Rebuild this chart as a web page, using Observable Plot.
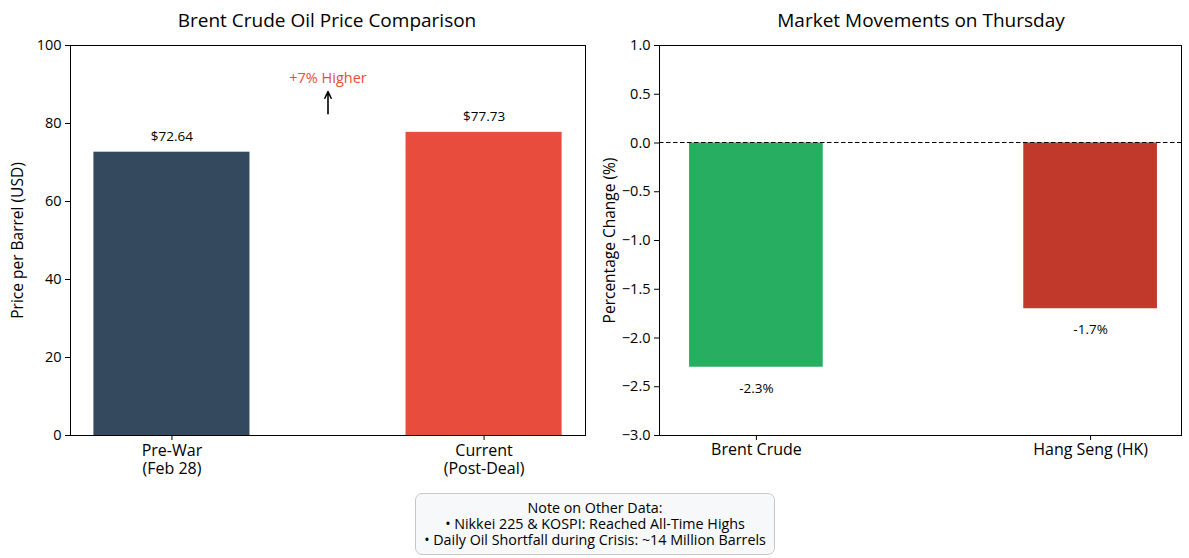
<!DOCTYPE html>
<html>
<head>
<meta charset="utf-8">
<script src="https://cdn.jsdelivr.net/npm/d3@7"></script>
<script src="https://cdn.jsdelivr.net/npm/@observablehq/plot@0.6"></script>
<style>
  html, body { margin: 0; padding: 0; background: #fff; }
  body { font-family: "Open Sans", Roboto, "DejaVu Sans", sans-serif; color: #000; }
  #wrap { position: relative; width: 1189px; height: 558px; overflow: hidden; }
  .panel { position: absolute; top: 0; }
  .title { position: absolute; top: 7px; font-size: 19px; text-align: center; white-space: nowrap; transform: translateX(-50%); }
  #note { position: absolute; left: 415px; top: 493px; width: 360px; height: 62px; box-sizing: border-box;
          border: 1px solid #c8c8c8; border-radius: 7px; background: #f6f8f9;
          font-size: 14.3px; line-height: 16px; text-align: center; padding-top: 6px; white-space: nowrap; }
</style>
</head>
<body>
<div id="wrap">
  <div class="title" style="left:327px">Brent Crude Oil Price Comparison</div>
  <div class="title" style="left:921px">Market Movements on Thursday</div>
  <div class="panel" id="left" style="left:0px"></div>
  <div class="panel" id="right" style="left:595px"></div>
  <div id="note"></div>
</div>
<script>
// ---- data ----
const priceCategories = ["Pre-War\n(Feb 28)", "Current\n(Post-Deal)"];
const priceValues = [72.64, 77.73];
const priceTicks = [0, 20, 40, 60, 80, 100];

const marketCategories = ["Brent Crude", "Hang Seng (HK)"];
const marketValues = [-2.3, -1.7];
const marketTicks = [-3.0, -2.5, -2.0, -1.5, -1.0, -0.5, 0.0, 0.5, 1.0];

const noteLines = [
  "Note on Other Data:",
  "• Nikkei 225 & KOSPI: Reached All-Time Highs",
  "• Daily Oil Shortfall during Crisis: ~14 Million Barrels"
];

// annotation between the two price bars (data units)
const annotationText = [{x: 0.5, y: 91.5}];
const annotationArrow = [{x: 0.5, y1: 82.5, y2: 88.2}];

// ---- styles ----
const priceColors = ["#34495e", "#e74c3c"];
const marketColors = ["#27ae60", "#c0392b"];
const FONT = "'Open Sans', Roboto, 'DejaVu Sans', sans-serif";

const priceData = priceCategories.map((c, i) => ({i, c, v: priceValues[i], color: priceColors[i]}));
const marketData = marketCategories.map((c, i) => ({i, c, v: marketValues[i], color: marketColors[i]}));

const pct = Math.round((priceValues[1] / priceValues[0] - 1) * 100);

const left = Plot.plot({
  width: 595, height: 480,
  marginLeft: 70, marginRight: 10, marginTop: 45, marginBottom: 45,
  style: {fontFamily: FONT, fontSize: "14px", color: "#000", background: "transparent", overflow: "visible"},
  x: {type: "linear", domain: [-0.325, 1.325]},
  y: {domain: [0, 100]},
  marks: [
    Plot.rectY(priceData, {x1: d => d.i - 0.25, x2: d => d.i + 0.25, y1: 0, y2: "v", fill: "color"}),
    Plot.text(priceData, {x: "i", y: "v", text: d => "$" + d.v.toFixed(2), dy: -16, fontSize: 13.5, fill: "#000"}),
    Plot.text(annotationText, {x: "x", y: "y", text: () => `+${pct}% Higher`, fill: "#e74c3c", fontSize: 14.5}),
    Plot.arrow(annotationArrow, {x1: "x", x2: "x", y1: "y1", y2: "y2", stroke: "#000", strokeWidth: 1.6, headLength: 8, headAngle: 50}),
    Plot.frame({stroke: "#000", strokeWidth: 1}),
    Plot.axisY({ticks: priceTicks, tickSize: 5, label: null, fontSize: 14.5, tickPadding: 4}),
    Plot.axisX({ticks: [0, 1], tickFormat: i => priceCategories[i], tickSize: 5, label: null, fontSize: 16, lineHeight: 1.1, tickPadding: 3}),
    Plot.text(["Price per Barrel (USD)"], {frameAnchor: "left", textAnchor: "middle", rotate: -90, dx: -52, fontSize: 15.5, fill: "#000"})
  ]
});
document.getElementById("left").appendChild(left);

const right = Plot.plot({
  width: 594, height: 480,
  marginLeft: 64, marginRight: 8, marginTop: 45, marginBottom: 45,
  style: {fontFamily: FONT, fontSize: "14px", color: "#000", background: "transparent", overflow: "visible"},
  x: {type: "linear", domain: [-0.29, 1.272]},
  y: {domain: [-3, 1]},
  marks: [
    Plot.rectY(marketData, {x1: d => d.i - 0.2, x2: d => d.i + 0.2, y1: 0, y2: "v", fill: "color"}),
    Plot.ruleY([0], {stroke: "#000", strokeWidth: 1, strokeDasharray: "4.5,2.5", dy: -0.5}),
    Plot.text(marketData, {x: "i", y: "v", text: d => d.v.toFixed(1) + "%", dy: 21, fontSize: 13.5, fill: "#000"}),
    Plot.frame({stroke: "#000", strokeWidth: 1}),
    Plot.axisY({ticks: marketTicks, tickSize: 5, label: null, fontSize: 14.5, tickPadding: 4,
                tickFormat: d => (Math.abs(d) < 1e-9 ? 0 : d).toFixed(1).replace("-", "\u2212")}),
    Plot.axisX({ticks: [0, 1], tickFormat: i => marketCategories[i], tickSize: 5, label: null, fontSize: 16, tickPadding: 3}),
    Plot.text(["Percentage Change (%)"], {frameAnchor: "left", textAnchor: "middle", rotate: -90, dx: -49, fontSize: 15.5, fill: "#000"})
  ]
});
document.getElementById("right").appendChild(right);

document.getElementById("note").innerHTML = noteLines.map(s => `<div>${s}</div>`).join("");
</script>
</body>
</html>
